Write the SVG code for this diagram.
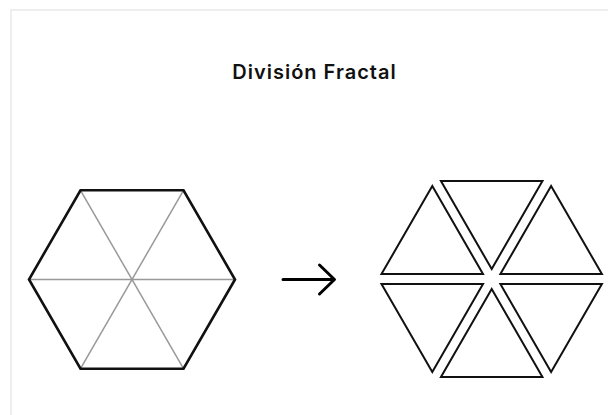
<svg xmlns="http://www.w3.org/2000/svg" width="608" height="415" viewBox="0 0 608 415">
<style>
.title{font-family:Inter,"Liberation Sans",sans-serif;font-size:20px;font-weight:600;letter-spacing:1px;fill:#111;}
.hex{fill:none;stroke:#111;stroke-width:2.6;stroke-linejoin:miter;}
.div{stroke:#999;stroke-width:1.5;fill:none;}
.tri{fill:none;stroke:#111;stroke-width:2;stroke-linejoin:miter;}
.arr{fill:none;stroke:#000;stroke-width:3;stroke-linecap:round;stroke-linejoin:round;}
</style>
<rect x="0" y="0" width="608" height="415" fill="#fff"/>
<rect x="11" y="10" width="620" height="420" fill="#fff" stroke="#eeeeee" stroke-width="2"/>
<g id="title"><text class="title" x="314.5" y="79" text-anchor="middle">División Fractal</text></g>
<g id="hexagon">
<line class="div" x1="29" y1="279.5" x2="235" y2="279.5"/>
<line class="div" x1="80.5" y1="190.3" x2="183.5" y2="368.7"/>
<line class="div" x1="183.5" y1="190.3" x2="80.5" y2="368.7"/>
<polygon class="hex" points="235,279.5 183.5,368.7 80.5,368.7 29,279.5 80.5,190.3 183.5,190.3"/>
</g>
<g id="connectors">
<path class="arr" d="M283,279.5 H334 M319.5,265 L334.5,279.5 L319.5,294"/>
</g>
<g id="triangles">
<polygon id="t-top" class="tri" points="491.7,269 440.95,181.1 542.45,181.1"/>
<polygon id="t-upper-right" class="tri" points="500.4,274 551.1,186.1 601.9,274"/>
<polygon id="t-upper-left" class="tri" points="483,274 381.5,274 432.3,186.1"/>
<polygon id="t-bottom" class="tri" points="491.7,289 440.95,376.9 542.45,376.9"/>
<polygon id="t-lower-right" class="tri" points="500.4,284 601.9,284 551.1,371.9"/>
<polygon id="t-lower-left" class="tri" points="483,284 381.5,284 432.3,371.9"/>
</g>
</svg>
